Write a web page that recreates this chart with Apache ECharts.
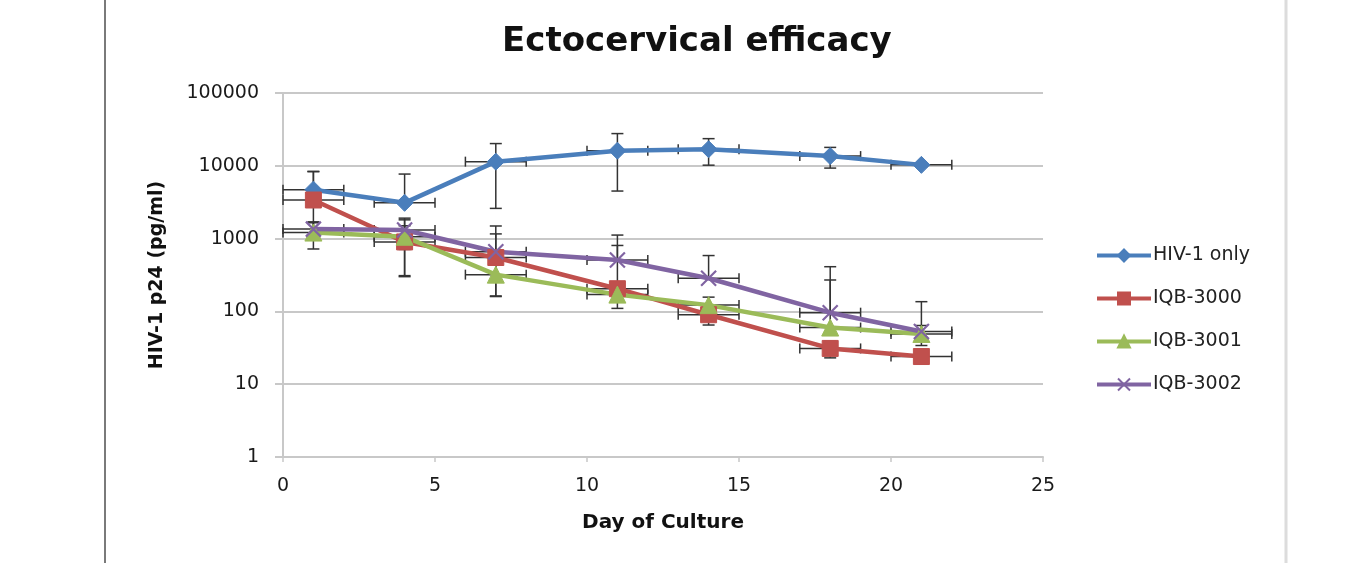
<!DOCTYPE html>
<html>
<head>
<meta charset="utf-8">
<script src="https://cdn.jsdelivr.net/npm/echarts@6/dist/echarts.min.js"></script>
<style>
html,body{margin:0;padding:0;background:#fff;}
#chart{width:1349px;height:563px;}
</style>
</head>
<body>
<div id="chart"></div>
<script>
// ---- data ----
var days = [1, 4, 7, 11, 14, 18, 21];
var seriesNames = ['HIV-1 only', 'IQB-3000', 'IQB-3001', 'IQB-3002'];
var hivOnly    = [4700, 3100, 11400, 16100, 16900, 13600, 10300];
var hivOnlySd  = [3600, 4600, 8800, 11600, 6700, 4300, 600];
var iqb3000    = [3390, 900, 550, 205, 90, 31, 24];
var iqb3000Sd  = [5000, 600, 940, 600, 25, 8, 5];
var iqb3001    = [1210, 1060, 320, 170, 122, 60, 49];
var iqb3001Sd  = [490, 750, 157, 60, 35, 210, 15];
var iqb3002    = [1350, 1310, 660, 508, 285, 96, 53];
var iqb3002Sd  = [300, 600, 500, 610, 300, 315, 83];
var dayErr     = [1, 1, 1, 1, 1, 1, 1];
var xTicks = [0, 5, 10, 15, 20, 25];
var yTickLabels = ['1', '10', '100', '1000', '10000', '100000'];

var colors = ['#4A7EBB', '#C0504D', '#9BBB59', '#8064A2'];
var values = [hivOnly, iqb3000, iqb3001, iqb3002];
var sds = [hivOnlySd, iqb3000Sd, iqb3001Sd, iqb3002Sd];
var symbols = ['diamond', 'rect', 'triangle', 'path://M0 0L10 10M10 0L0 10'];
var symbolSizes = [17, 16, 17, 15];

var chart = echarts.init(document.getElementById('chart'));
var FONT = 'DejaVu Sans';
var ERR = '#333333';

function errRender(params, api) {
  var x = api.value(0), y = api.value(1), sdy = api.value(2), sdx = api.value(3);
  var c = api.coord([x, y]);
  var top = api.coord([x, y + sdy]);
  var st = {stroke: ERR, lineWidth: 1.5};
  var ch = [];
  var bottom = c;
  if (y - sdy > 0) {
    bottom = api.coord([x, y - sdy]);
    ch.push({type: 'line', shape: {x1: bottom[0] - 6, y1: bottom[1], x2: bottom[0] + 6, y2: bottom[1]}, style: st});
  }
  ch.push({type: 'line', shape: {x1: top[0], y1: top[1], x2: bottom[0], y2: bottom[1]}, style: st});
  ch.push({type: 'line', shape: {x1: top[0] - 6, y1: top[1], x2: top[0] + 6, y2: top[1]}, style: st});
  var l = api.coord([x - sdx, y]), r = api.coord([x + sdx, y]);
  ch.push({type: 'line', shape: {x1: l[0], y1: l[1], x2: r[0], y2: r[1]}, style: st});
  ch.push({type: 'line', shape: {x1: l[0], y1: l[1] - 5, x2: l[0], y2: l[1] + 5}, style: st});
  ch.push({type: 'line', shape: {x1: r[0], y1: r[1] - 5, x2: r[0], y2: r[1] + 5}, style: st});
  return {type: 'group', children: ch};
}

var series = [];
for (var i = 0; i < 4; i++) {
  var errData = days.map(function (d, k) { return [d, values[i][k], sds[i][k], dayErr[k]]; });
  series.push({
    name: 'err' + i, type: 'custom', renderItem: errRender, data: errData,
    encode: {x: 0, y: 1}, z: 1, silent: true, clip: false
  });
}
for (var j = 0; j < 4; j++) {
  var isX = j === 3;
  series.push({
    name: seriesNames[j], type: 'line', z: 3,
    data: days.map(function (d, k) { return [d, values[j][k]]; }),
    symbol: symbols[j], symbolSize: symbolSizes[j], showAllSymbol: true,
    lineStyle: {color: colors[j], width: 4.5},
    itemStyle: isX ? {color: colors[j], borderColor: colors[j], borderWidth: 2.2} : {color: colors[j], borderColor: colors[j], borderWidth: 1},
    emphasis: {disabled: true}, animation: false
  });
}

chart.setOption({
  animation: false,
  backgroundColor: '#ffffff',
  title: {
    text: 'Ectocervical efficacy', left: 497, top: 20,
    textStyle: {fontFamily: FONT, fontWeight: 'bold', fontSize: 34, color: '#111'}
  },
  grid: {left: 283, right: 306, top: 93, bottom: 106},
  legend: {
    data: seriesNames, orient: 'vertical', left: 1090, top: 241,
    itemWidth: 54, itemHeight: 15, itemGap: 24,
    lineStyle: {width: 4},
    textStyle: {fontFamily: FONT, fontSize: 19, color: '#222', padding: [0, 0, 0, -3]}
  },
  xAxis: {
    type: 'value', min: 0, max: 25, interval: 5,
    name: 'Day of Culture', nameLocation: 'middle', nameGap: 56,
    nameTextStyle: {fontFamily: FONT, fontWeight: 'bold', fontSize: 20, color: '#111'},
    axisLine: {show: true, lineStyle: {color: '#c8c8c8', width: 2}},
    axisTick: {show: true, length: 5, lineStyle: {color: '#c8c8c8', width: 1.5}},
    axisLabel: {margin: 20, fontFamily: FONT, fontSize: 19, color: '#1a1a1a',
      formatter: function (v) { var k = xTicks.indexOf(Math.round(v)); return k >= 0 ? String(xTicks[k]) : ''; }},
    splitLine: {show: false}
  },
  yAxis: {
    type: 'log', logBase: 10, min: 1, max: 100000,
    name: 'HIV-1 p24 (pg/ml)', nameLocation: 'middle', nameGap: 116,
    nameTextStyle: {fontFamily: FONT, fontWeight: 'bold', fontSize: 19, color: '#111'},
    axisLine: {show: true, lineStyle: {color: '#c8c8c8', width: 2}},
    axisTick: {show: true, length: 8, lineStyle: {color: '#c8c8c8', width: 2}},
    axisLabel: {margin: 24, fontFamily: FONT, fontSize: 19, color: '#1a1a1a',
      formatter: function (v) { var k = Math.round(Math.log10(v)); return yTickLabels[k] || ''; }},
    splitLine: {show: true, lineStyle: {color: '#c8c8c8', width: 2}}
  },
  graphic: [
    {type: 'line', shape: {x1: 105, y1: 0, x2: 105, y2: 563}, style: {stroke: '#7a7a7a', lineWidth: 2}, silent: true},
    {type: 'line', shape: {x1: 1286, y1: 0, x2: 1286, y2: 563}, style: {stroke: '#dcdcdc', lineWidth: 3}, silent: true}
  ],
  series: series
});
</script>
</body>
</html>
